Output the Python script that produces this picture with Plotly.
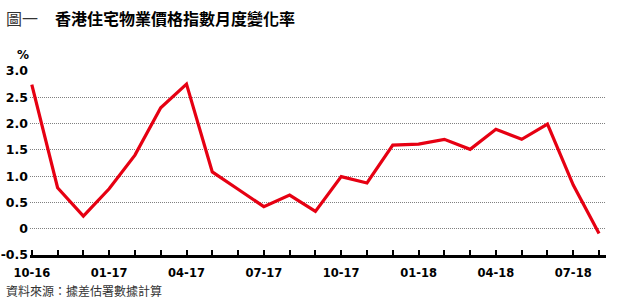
import plotly.graph_objects as go

# ---- data ----
months = ["10-16", "11-16", "12-16", "01-17", "02-17", "03-17", "04-17", "05-17",
          "06-17", "07-17", "08-17", "09-17", "10-17", "11-17", "12-17", "01-18",
          "02-18", "03-18", "04-18", "05-18", "06-18", "07-18", "08-18"]
change_pct = [2.74, 0.78, 0.24, 0.76, 1.40, 2.30, 2.75, 1.08, 0.75, 0.42, 0.64, 0.33,
              0.99, 0.87, 1.59, 1.61, 1.70, 1.51, 1.89, 1.70, 1.99, 0.83, -0.09]
label_text = ["10-16", "01-17", "04-17", "07-17", "10-17", "01-18", "04-18", "07-18"]
y_ticks = [-0.5, 0, 0.5, 1.0, 1.5, 2.0, 2.5, 3.0]
y_tick_text = ["-0.5", "0", "0.5", "1.0", "1.5", "2.0", "2.5", "3.0"]

W, H = 620, 301
LABEL_FONT = "DejaVu Sans"
CJK = "Noto Sans CJK TC"

x_tick_text = [m if m in label_text else "" for m in months]

fig = go.Figure()
fig.add_trace(go.Scatter(
    x=months, y=change_pct, mode="lines",
    line=dict(color="#E60012", width=3.2),
    hoverinfo="skip", showlegend=False,
))

fig.update_layout(
    width=W, height=H,
    margin=dict(l=0, r=0, t=71, b=46, autoexpand=False),
    paper_bgcolor="white", plot_bgcolor="white",
    xaxis=dict(
        type="category", domain=[30 / W, 606 / W], range=[-0.07, 22.27],
        tickvals=months, ticktext=x_tick_text, automargin=False,
        showgrid=False, zeroline=False,
        showline=True, linecolor="black", linewidth=3,
        ticks="inside", ticklen=5, tickwidth=2, tickcolor="black",
        tickfont=dict(family=LABEL_FONT, size=11.5, color="black", weight="bold"),
        ticklabelstandoff=5,
    ),
    yaxis=dict(
        range=[-0.5, 3.0], tickvals=y_ticks, ticktext=y_tick_text, automargin=False,
        showgrid=True, gridcolor="#808080", griddash="1px,1px", gridwidth=1,
        zeroline=False, showline=False, ticks="",
        tickfont=dict(family=LABEL_FONT, size=12.5, color="black", weight="bold"),
        ticklabelstandoff=1,
    ),
)

def py(pix):
    return (255 - pix) / 184

fig.add_annotation(x=4 / W, y=py(18), xref="paper", yref="paper",
                   xanchor="left", yanchor="middle", showarrow=False,
                   text="圖一", font=dict(family=CJK, size=16, color="#333333"))
fig.add_annotation(x=53 / W, y=py(18), xref="paper", yref="paper",
                   xanchor="left", yanchor="middle", showarrow=False,
                   text="香港住宅物業價格指數月度變化率",
                   font=dict(family=CJK, size=16, color="black", weight="bold"))
fig.add_annotation(x=22.5 / W, y=py(55), xref="paper", yref="paper",
                   xanchor="center", yanchor="middle", showarrow=False,
                   text="%", font=dict(family=LABEL_FONT, size=12, color="black", weight="bold"))
fig.add_annotation(x=4 / W, y=py(290), xref="paper", yref="paper",
                   xanchor="left", yanchor="middle", showarrow=False,
                   text="資料來源：據差估署數據計算",
                   font=dict(family=CJK, size=12, color="#333333"))

fig.write_html("out.html")
